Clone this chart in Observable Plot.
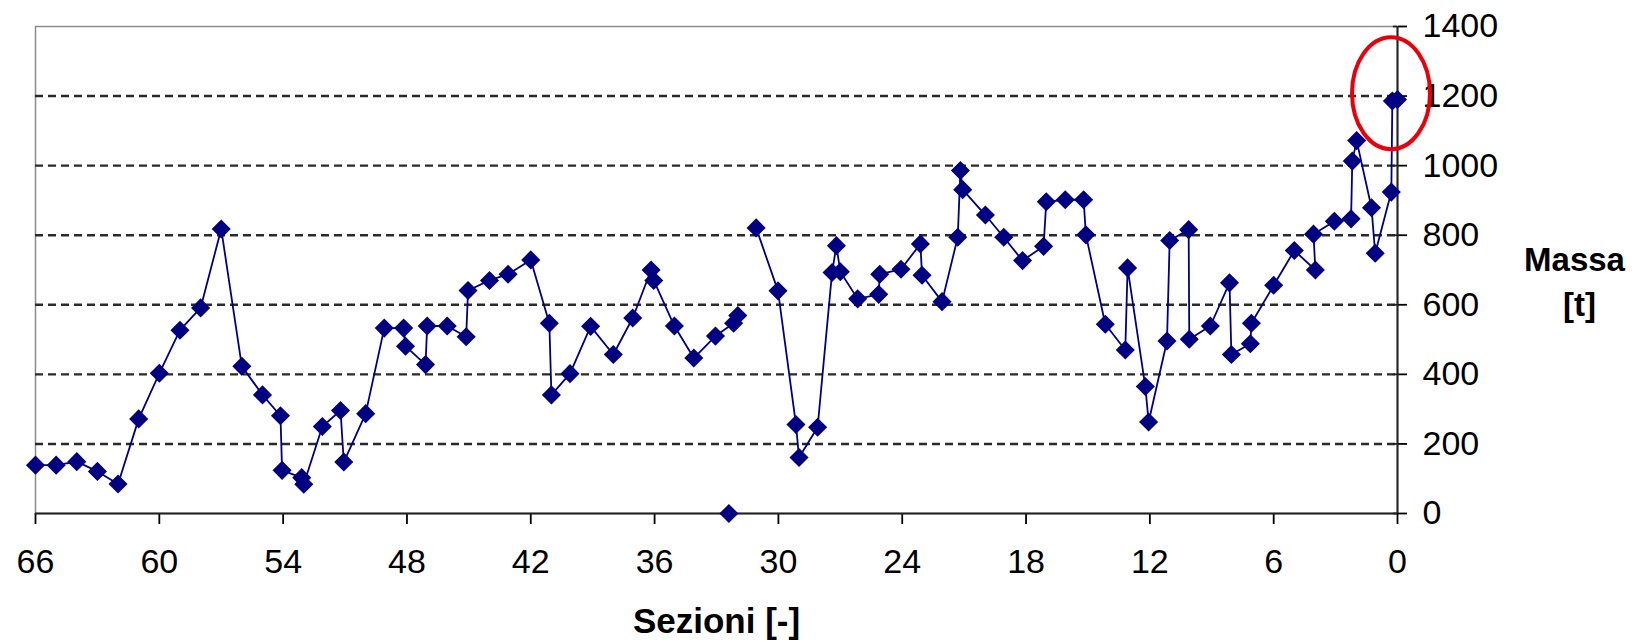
<!DOCTYPE html>
<html><head><meta charset="utf-8">
<script src="https://cdn.jsdelivr.net/npm/d3@7"></script>
<script src="https://cdn.jsdelivr.net/npm/@observablehq/plot@0.6"></script>
<style>
html,body{margin:0;padding:0;background:#fff;}
#chart svg{display:block;}
</style></head><body><div id="chart"></div>
<script>
// Section positions (x) and mass values (y), in drawing order of the line
const sections = [
  66, 65, 64, 63, 62, 61, 60, 59, 58, 57,
  56, 55, 54.13, 54.05, 53.1, 53.0, 52.1, 51.22, 51.06, 50,
  49.1, 48.16, 48.07, 47.1, 47.02, 46.05, 45.13, 45.04, 44, 43.1,
  42, 41.1, 41.0, 40.1, 39.1, 38, 37.06, 36.17, 36.04, 35.04,
  34.1, 33.05, 32.17, 31.97, 32.4, 31.08, 30.02, 29.15, 29.0, 28.1,
  27.4, 27.19, 27.0, 26.16, 25.14, 25.09, 24.06, 23.12, 23.04, 22.07,
  21.31, 21.18, 21.07, 19.97, 19.08, 18.17, 17.15, 17.02, 16.1, 15.21,
  15.1, 14.16, 13.19, 13.08, 12.22, 12.06, 11.17, 11.04, 10.12, 10.09,
  9.07, 8.14, 8.05, 7.13, 7.08, 6.0, 5.0, 3.98, 4.07, 3.06,
  2.25, 2.19, 1.98, 1.26, 1.08, 0.3, 0.25, 0.0
];
const masses = [
  139, 139, 149, 121, 85, 272, 403, 527, 591, 818,
  423, 341, 281, 124, 103, 84, 250, 296, 148, 287,
  533, 533, 481, 428, 539, 539, 508, 641, 670, 688,
  729, 547, 341, 402, 538, 457, 562, 700, 670, 539,
  447, 510, 547, 569, 0, 821, 640, 256, 161, 248,
  693, 770, 695, 617, 630, 688, 702, 775, 685, 609,
  794, 986, 931, 858, 794, 727, 768, 896, 902, 902,
  801, 544, 470, 706, 365, 263, 496, 785, 816, 501,
  539, 663, 457, 488, 547, 656, 756, 700, 803, 840,
  847, 1013, 1072, 879, 748, 924, 1186, 1190
];
// the isolated point (missing value drawn at 0, not joined by the line)
const isolated = [false, false, false, false, false, false, false, false, false, false,
  false, false, false, false, false, false, false, false, false, false,
  false, false, false, false, false, false, false, false, false, false,
  false, false, false, false, false, false, false, false, false, false,
  false, false, false, false, true, false, false, false, false, false];

const xTicks = [66, 60, 54, 48, 42, 36, 30, 24, 18, 12, 6, 0];
const yTicks = [0, 200, 400, 600, 800, 1000, 1200, 1400];
const gridValues = [200, 400, 600, 800, 1000, 1200];
const xTitle = "Sezioni [-]";
const yTitle1 = "Massa";
const yTitle2 = "[t]";
const highlight = {section: 0.29, mass: 1207};

const data = sections.map((s, i) => ({section: s, mass: masses[i], gap: !!isolated[i]}));

const navy = "#000080";
const chart = Plot.plot({
  width: 1637, height: 642,
  marginLeft: 35, marginRight: 240, marginTop: 26, marginBottom: 129,
  style: {fontFamily: "'Liberation Sans', Arial, sans-serif", fontSize: "34px", color: "#000", background: "#fff"},
  x: {domain: [66, 0]},
  y: {domain: [0, 1400]},
  marks: [
    Plot.frame({stroke: "#8c8c8c", strokeWidth: 1.5}),
    Plot.ruleY(gridValues, {stroke: "#2a2a2a", strokeWidth: 2.4, strokeDasharray: "8,5"}),
    Plot.axisX(xTicks, {tickSize: 11, tickPadding: 24, strokeWidth: 1.8, label: null, fontSize: 34, tickFormat: d => String(d)}),
    Plot.axisY(yTicks, {anchor: "right", tickSize: 9, tickPadding: 16, strokeWidth: 1.8, label: null, fontSize: 34, tickFormat: d => String(d)}),
    Plot.ruleY(yTicks, {x1: 0.2, x2: 0, stroke: "#222", strokeWidth: 1.8}),
    Plot.ruleY([0], {stroke: "#222", strokeWidth: 2.2}),
    Plot.ruleX([0], {stroke: "#222", strokeWidth: 2}),
    Plot.line(data, {x: "section", y: d => d.gap ? NaN : d.mass, stroke: navy, strokeWidth: 1.8}),
    Plot.dot(data, {x: "section", y: "mass", symbol: "diamond2", r: 8.6, fill: navy, stroke: "none"}),
    Plot.text([xTitle], {frameAnchor: "bottom", textAnchor: "middle", dy: 119, lineAnchor: "bottom", fontWeight: "bold", fontSize: 35}),
    Plot.text([yTitle1], {frameAnchor: "right", textAnchor: "middle", dx: 177, dy: 0.5, lineAnchor: "bottom", fontWeight: "bold", fontSize: 33}),
    Plot.text([yTitle2], {frameAnchor: "right", textAnchor: "middle", dx: 182, dy: 45.5, lineAnchor: "bottom", fontWeight: "bold", fontSize: 33})
  ]
});

const sx = chart.scale("x"), sy = chart.scale("y");
d3.select(chart).append("ellipse")
  .attr("cx", sx.apply(highlight.section))
  .attr("cy", sy.apply(highlight.mass))
  .attr("rx", 39)
  .attr("ry", 56)
  .attr("fill", "none")
  .attr("stroke", "#e8000b")
  .attr("stroke-width", 4);

document.getElementById("chart").appendChild(chart);
</script></body></html>
